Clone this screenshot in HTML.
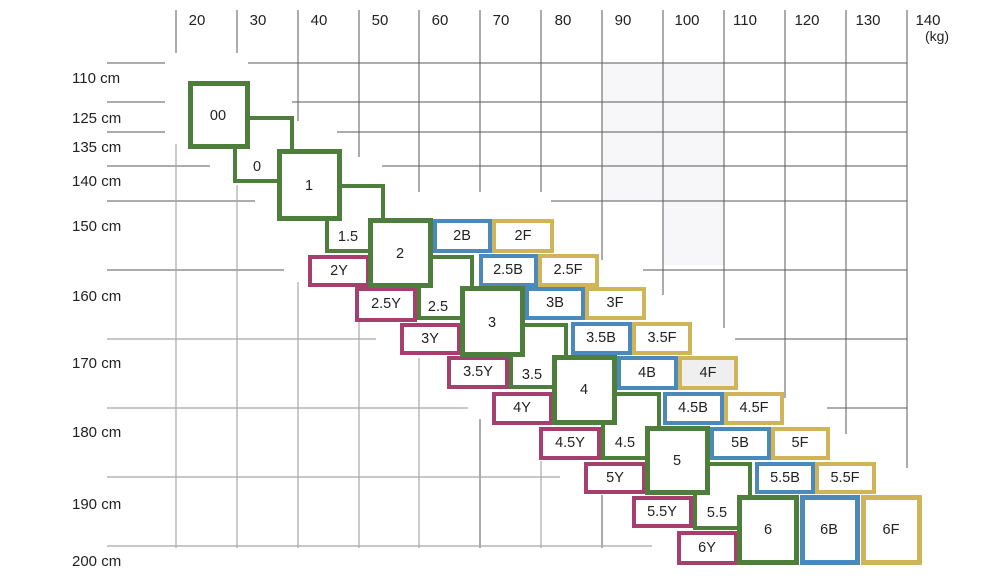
<!DOCTYPE html>
<html>
<head>
<meta charset="utf-8">
<style>
html,body{margin:0;padding:0;background:#fff;}
svg{display:block;}
.ax{font-family:"Liberation Sans",sans-serif;font-size:15px;fill:#222;}
.lb{font-family:"Liberation Sans",sans-serif;font-size:14.5px;fill:#222;text-anchor:middle;dominant-baseline:central;}
.g{fill:#fff;stroke:#4e7e3b;stroke-width:4;}
.gm{fill:#fff;stroke:#4e7e3b;stroke-width:5;}
.b{fill:#fff;stroke:#4b89ba;stroke-width:4;}
.f{fill:#fff;stroke:#cfb45a;stroke-width:4;}
.y{fill:#fff;stroke:#a63f6d;stroke-width:4;}
</style>
</head>
<body>
<svg width="1000" height="578" viewBox="0 0 1000 578" xmlns="http://www.w3.org/2000/svg">
<rect width="1000" height="578" fill="#fff"/>
<!-- faint shading -->
<rect x="602" y="63" width="122" height="138" fill="#f7f7fa"/>
<rect x="663" y="201" width="61" height="64" fill="#f7f7fa"/>

<!-- grid: dark upper -->
<g stroke="#5a5a5a" stroke-width="1" fill="none">
<line x1="176" y1="10" x2="176" y2="53"/>
<line x1="237" y1="10" x2="237" y2="53"/>
<line x1="298" y1="10" x2="298" y2="121"/>
<line x1="359" y1="10" x2="359" y2="157"/>
<line x1="419" y1="10" x2="419" y2="192"/>
<line x1="480" y1="10" x2="480" y2="192"/>
<line x1="541" y1="10" x2="541" y2="192"/>
<line x1="602" y1="10" x2="602" y2="260"/>
<line x1="663" y1="10" x2="663" y2="295"/>
<line x1="724" y1="10" x2="724" y2="328"/>
<line x1="785" y1="10" x2="785" y2="398"/>
<line x1="846" y1="10" x2="846" y2="434"/>
<line x1="907" y1="10" x2="907" y2="468"/>

<line x1="107" y1="63" x2="165" y2="63"/>
<line x1="248" y1="63" x2="907" y2="63"/>
<line x1="107" y1="102" x2="165" y2="102"/>
<line x1="292" y1="102" x2="907" y2="102"/>
<line x1="107" y1="132" x2="165" y2="132"/>
<line x1="337" y1="132" x2="907" y2="132"/>
<line x1="107" y1="166" x2="210" y2="166"/>
<line x1="382" y1="166" x2="907" y2="166"/>
<line x1="107" y1="201" x2="255" y2="201"/>
<line x1="551" y1="201" x2="907" y2="201"/>
<line x1="107" y1="270" x2="284" y2="270"/>
<line x1="643" y1="270" x2="907" y2="270"/>
<line x1="735" y1="339" x2="907" y2="339"/>
<line x1="827" y1="408" x2="907" y2="408"/>
<line x1="480" y1="419" x2="480" y2="548"/>
<line x1="602" y1="495" x2="602" y2="548"/>
</g>
<!-- grid: lighter lower-left -->
<g stroke="#a8a8a8" stroke-width="1.2" fill="none">
<line x1="176" y1="144" x2="176" y2="548"/>
<line x1="237" y1="185" x2="237" y2="548"/>
<line x1="298" y1="282" x2="298" y2="548"/>
<line x1="359" y1="322" x2="359" y2="548"/>
<line x1="419" y1="358" x2="419" y2="548"/>
<line x1="541" y1="461" x2="541" y2="548"/>
<line x1="107" y1="339" x2="376" y2="339"/>
<line x1="107" y1="408" x2="468" y2="408"/>
<line x1="107" y1="477" x2="560" y2="477"/>
<line x1="107" y1="546" x2="652" y2="546"/>
</g>

<!-- axis labels -->
<g class="ax" text-anchor="middle">
<text x="197" y="25">20</text>
<text x="258" y="25">30</text>
<text x="319" y="25">40</text>
<text x="380" y="25">50</text>
<text x="440" y="25">60</text>
<text x="501" y="25">70</text>
<text x="563" y="25">80</text>
<text x="623" y="25">90</text>
<text x="687" y="25">100</text>
<text x="745" y="25">110</text>
<text x="807" y="25">120</text>
<text x="868" y="25">130</text>
<text x="928" y="25">140</text>
<text x="937" y="41" style="font-size:14px">(kg)</text>
</g>
<g class="ax">
<text x="72" y="83">110 cm</text>
<text x="72" y="123">125 cm</text>
<text x="72" y="152">135 cm</text>
<text x="72" y="186">140 cm</text>
<text x="72" y="231">150 cm</text>
<text x="72" y="301">160 cm</text>
<text x="72" y="368">170 cm</text>
<text x="72" y="437">180 cm</text>
<text x="72" y="509">190 cm</text>
<text x="72" y="566">200 cm</text>
</g>

<!-- half green boxes -->
<rect class="g" x="235" y="118" width="57" height="63"/>
<rect class="g" x="327" y="186" width="56" height="65"/>
<rect class="g" x="419" y="257" width="53" height="61"/>
<rect class="g" x="511" y="325" width="55" height="62"/>
<rect class="g" x="603" y="394" width="56" height="64"/>
<rect class="g" x="695" y="464" width="55" height="64"/>

<!-- Y boxes -->
<rect class="y" x="310" y="257" width="58" height="28"/>
<rect class="y" x="357" y="289" width="58" height="31"/>
<rect class="y" x="402" y="325" width="57" height="28"/>
<rect class="y" x="449" y="358" width="58" height="29"/>
<rect class="y" x="494" y="394" width="57" height="29"/>
<rect class="y" x="541" y="429" width="58" height="29"/>
<rect class="y" x="586" y="464" width="58" height="28"/>
<rect class="y" x="634" y="498" width="57" height="28"/>
<rect class="y" x="679" y="533" width="57" height="30"/>

<!-- B boxes -->
<rect class="b" x="435" y="221" width="55" height="30"/>
<rect class="b" x="481" y="256" width="55" height="29"/>
<rect class="b" x="527" y="289" width="56" height="29"/>
<rect class="b" x="573" y="324" width="57" height="29"/>
<rect class="b" x="619" y="358" width="57" height="30"/>
<rect class="b" x="665" y="394" width="57" height="29"/>
<rect class="b" x="712" y="429" width="57" height="29"/>
<rect class="b" x="757" y="464" width="56" height="28"/>

<!-- F boxes -->
<rect class="f" x="494" y="221" width="58" height="30"/>
<rect class="f" x="540" y="256" width="57" height="29"/>
<rect class="f" x="587" y="289" width="57" height="29"/>
<rect class="f" x="634" y="324" width="56" height="29"/>
<rect class="f" x="680" y="358" width="56" height="30" style="fill:#efefef"/>
<rect class="f" x="726" y="394" width="56" height="29"/>
<rect class="f" x="773" y="429" width="55" height="29"/>
<rect class="f" x="817" y="464" width="57" height="28"/>

<!-- main green boxes -->
<rect class="gm" x="190.5" y="83.5" width="57" height="63"/>
<rect class="gm" x="279.5" y="151.5" width="60" height="67"/>
<rect class="gm" x="370.5" y="220.5" width="60" height="65"/>
<rect class="gm" x="462.5" y="288.5" width="60" height="66"/>
<rect class="gm" x="554.5" y="357.5" width="60" height="65"/>
<rect class="gm" x="647.5" y="428.5" width="60" height="64"/>
<rect class="gm" x="739.5" y="497.5" width="57" height="65"/>
<rect class="b" x="802.5" y="497.5" width="55" height="65" style="stroke-width:5"/>
<rect class="f" x="863.5" y="497.5" width="56" height="65" style="stroke-width:5"/>

<!-- labels -->
<g class="lb">
<text x="218" y="116">00</text>
<text x="257" y="167">0</text>
<text x="309" y="186">1</text>
<text x="348" y="237">1.5</text>
<text x="400" y="254">2</text>
<text x="438" y="307">2.5</text>
<text x="492" y="323">3</text>
<text x="532" y="375">3.5</text>
<text x="584" y="390">4</text>
<text x="625" y="443">4.5</text>
<text x="677" y="461">5</text>
<text x="717" y="513">5.5</text>
<text x="768" y="530">6</text>
<text x="829" y="530">6B</text>
<text x="891" y="530">6F</text>

<text x="462" y="236">2B</text>
<text x="523" y="236">2F</text>
<text x="508" y="270">2.5B</text>
<text x="568" y="270">2.5F</text>
<text x="555" y="303">3B</text>
<text x="615" y="303">3F</text>
<text x="601" y="338">3.5B</text>
<text x="662" y="338">3.5F</text>
<text x="647" y="373">4B</text>
<text x="708" y="373">4F</text>
<text x="693" y="408">4.5B</text>
<text x="754" y="408">4.5F</text>
<text x="740" y="443">5B</text>
<text x="800" y="443">5F</text>
<text x="785" y="478">5.5B</text>
<text x="845" y="478">5.5F</text>

<text x="339" y="271">2Y</text>
<text x="386" y="304">2.5Y</text>
<text x="430" y="339">3Y</text>
<text x="478" y="372">3.5Y</text>
<text x="522" y="408">4Y</text>
<text x="570" y="443">4.5Y</text>
<text x="615" y="478">5Y</text>
<text x="662" y="512">5.5Y</text>
<text x="707" y="548">6Y</text>
</g>
</svg>
</body>
</html>
